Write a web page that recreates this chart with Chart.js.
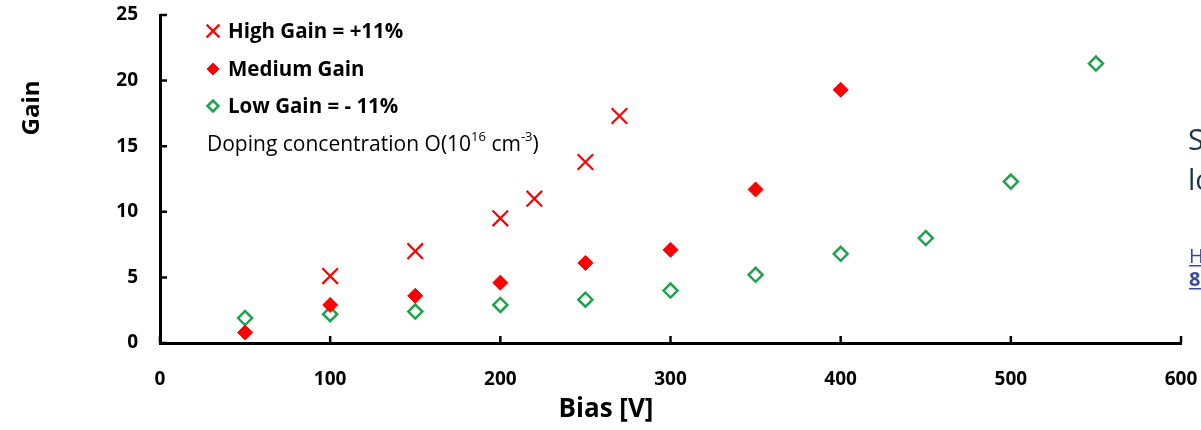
<!DOCTYPE html>
<html>
<head>
<meta charset="utf-8">
<script src="https://cdn.jsdelivr.net/npm/chart.js@4"></script>
<style>
  html, body { margin: 0; padding: 0; background: #fff; }
  #wrap { width: 1201px; height: 430px; }
</style>
</head>
<body>
<div id="wrap"><canvas id="mycanvas1" width="1201" height="430"></canvas></div>
<script>
// values
var highBias = [100, 150, 200, 220, 250, 270];
var highGain = [5.1, 7.0, 9.5, 11.0, 13.8, 17.3];
var medBias = [50, 100, 150, 200, 250, 300, 350, 400];
var medGain = [0.8, 2.9, 3.6, 4.6, 6.1, 7.1, 11.7, 19.3];
var lowBias = [50, 100, 150, 200, 250, 300, 350, 400, 450, 500, 550];
var lowGain = [1.9, 2.2, 2.4, 2.9, 3.3, 4.0, 5.2, 6.8, 8.0, 12.3, 21.3];
var seriesNames = ["High Gain = +11%", "Medium Gain", "Low Gain = - 11%"];

function pts(xs, ys) {
  var out = [];
  for (var i in xs) out.push({x: xs[i], y: ys[i]});
  return out;
}

var RED = "#ff0000";
var GREEN = "#1fa24f";
var FONT = "'Open Sans'";

var extras = {
  id: "extras",
  afterDraw: function(chart) {
    var ctx = chart.ctx;
    var xs = chart.scales.x, ys = chart.scales.y;
    var area = chart.chartArea;
    ctx.save();
    // inward tick marks
    ctx.strokeStyle = "#000";
    ctx.lineWidth = 2.5;
    ctx.beginPath();
    xs.ticks.forEach(function(t, i) {
      var px = xs.getPixelForTick(i);
      ctx.moveTo(px, area.bottom);
      ctx.lineTo(px, area.bottom - 7);
    });
    ys.ticks.forEach(function(t, i) {
      var py = ys.getPixelForTick(i);
      ctx.moveTo(area.left, py);
      ctx.lineTo(area.left + 7, py);
    });
    ctx.stroke();

    // legend inside the plot
    ctx.textBaseline = "middle";
    ctx.textAlign = "left";
    var rows = [31, 69, 106];
    var legR = [9, 6, 5.5];
    chart.data.datasets.forEach(function(ds, i) {
      ctx.fillStyle = ds.backgroundColor;
      ctx.strokeStyle = ds.borderColor;
      ctx.lineWidth = ds.borderWidth;
      Chart.helpers.drawPoint(ctx, {
        pointStyle: ds.pointStyle, radius: legR[i], rotation: 0,
        borderWidth: ds.borderWidth
      }, 213, rows[i]);
      ctx.fillStyle = "#000";
      ctx.font = "bold 20.5px " + FONT;
      ctx.fillText(seriesNames[i], 228, rows[i] + 1);
    });

    // doping note with superscripts
    ctx.fillStyle = "#000";
    var x = 207, y = 145;
    var parts = [["Doping concentration O(10", 0], ["16", 1], [" cm", 0], ["-3", 1], [")", 0]];
    parts.forEach(function(p) {
      ctx.font = (p[1] ? "13px " : "21px ") + FONT;
      ctx.fillText(p[0], x, p[1] ? y - 8 : y);
      x += ctx.measureText(p[0]).width;
    });

    // axis titles
    ctx.textAlign = "center";
    ctx.font = "bold 26px " + FONT;
    ctx.fillText("Bias [V]", 606, 410);
    ctx.save();
    ctx.translate(32, 108);
    ctx.rotate(-Math.PI / 2);
    ctx.font = "bold 24px " + FONT;
    ctx.fillText("Gain", 0, 0);
    ctx.restore();

    // clipped slide text at the right edge
    ctx.textAlign = "left";
    ctx.textBaseline = "alphabetic";
    ctx.fillStyle = "#1f3645";
    ctx.font = "29px " + FONT;
    ctx.fillText("So", 1188, 150);
    ctx.fillText("lo", 1188, 190);
    ctx.fillStyle = "#3b4aa0";
    ctx.font = "20px " + FONT;
    ctx.fillText("H", 1189, 263);
    ctx.font = "bold 20px " + FONT;
    ctx.fillText("8", 1189, 286);
    ctx.fillRect(1189, 265, 12, 1.5);
    ctx.fillRect(1189, 288, 12, 1.5);
    ctx.restore();
  }
};

var ctx = document.getElementById("mycanvas1");
var chart = new Chart(ctx, {
  type: "scatter",
  data: {
    datasets: [
      {
        label: seriesNames[0],
        data: pts(highBias, highGain),
        pointStyle: "crossRot",
        pointRadius: 11,
        borderWidth: 2.2,
        borderColor: RED,
        backgroundColor: RED
      },
      {
        label: seriesNames[1],
        data: pts(medBias, medGain),
        pointStyle: "rectRot",
        pointRadius: 7.5,
        borderWidth: 1,
        borderColor: RED,
        backgroundColor: RED
      },
      {
        label: seriesNames[2],
        data: pts(lowBias, lowGain),
        pointStyle: "rectRot",
        pointRadius: 7,
        borderWidth: 2.5,
        borderColor: GREEN,
        backgroundColor: "#ffffff"
      }
    ]
  },
  options: {
    responsive: false,
    animation: false,
    layout: { padding: { top: 15, right: 20, left: 0, bottom: 0 } },
    plugins: { legend: { display: false }, tooltip: { enabled: false } },
    scales: {
      x: {
        type: "linear",
        min: 0, max: 600,
        ticks: { stepSize: 100, padding: 25, color: "#000", font: { family: "Open Sans", size: 19, weight: "bold" } },
        grid: { drawOnChartArea: false, drawTicks: false },
        border: { color: "#000", width: 3 },
        afterFit: function(s) { s.height = 87; s.paddingLeft = 0; s.paddingRight = 0; }
      },
      y: {
        min: 0, max: 25,
        ticks: { stepSize: 5, padding: 22, color: "#000", font: { family: "Open Sans", size: 19, weight: "bold" } },
        grid: { drawOnChartArea: false, drawTicks: false },
        border: { color: "#000", width: 3 },
        afterFit: function(s) { s.width = 160; s.paddingTop = 0; s.paddingBottom = 0; }
      }
    }
  },
  plugins: [extras]
});
</script>
</body>
</html>
